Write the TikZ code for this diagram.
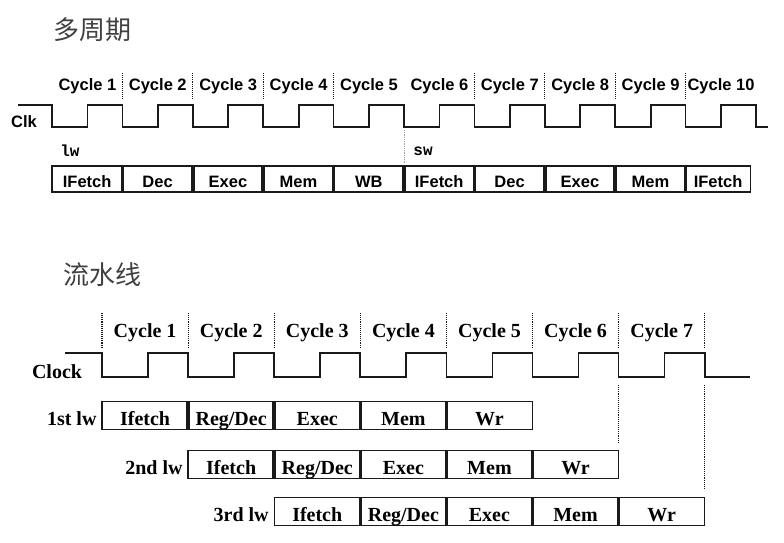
\documentclass[tikz,border=0pt]{standalone}
\usepackage{fontspec}
\setmainfont{Liberation Serif}
\newfontfamily\labsans{Liberation Sans}
\newfontfamily\labmono{Liberation Mono}
\newfontfamily\cjk{Noto Sans CJK SC}
\usetikzlibrary{positioning}
\definecolor{ink}{HTML}{1A1A1A}
\definecolor{titlegray}{HTML}{404040}
\definecolor{guidegray}{HTML}{A0A0A0}

\begin{document}
\begin{tikzpicture}[
  x=1pt,y=-1pt,
  wave/.style={line width=1.7pt,draw=ink},
  tick/.style={densely dotted,line width=1.1pt,draw=ink},
  stage/.style={draw=ink,line width=1.4pt,outer sep=0pt,inner sep=0pt,minimum height=26pt,minimum width=70.4pt,text height=17pt,text depth=0pt,font=\labsans\bfseries\fontsize{16.5}{20}\selectfont},
  pstage/.style={draw=ink,line width=1.4pt,outer sep=0pt,inner sep=0pt,minimum height=28pt,minimum width=86.1pt,text height=19pt,text depth=0pt,font=\bfseries\fontsize{20}{22}\selectfont},
  divider/.style={line width=3.6pt,draw=ink},
  title/.style={font=\cjk\fontsize{26}{30}\selectfont,text=titlegray},
  tlabel/.style={font=\labsans\bfseries\fontsize{16.5}{20}\selectfont},
  instr/.style={font=\labmono\bfseries\fontsize{16}{18}\selectfont},
  plabel/.style={font=\bfseries\fontsize{20}{22}\selectfont}
]
\useasboundingbox (0,0) rectangle (784,542);

% multi-cycle
\node[title] (mctitle) at (92,30) {多周期};
\node[tlabel] (clk) at (24,122) {Clk};
\draw[wave] (18,105) \foreach \i in {0,...,9}{ -- ({52+70.4*\i},105) -- ({52+70.4*\i},127) -- ({87.5+70.4*\i},127) -- ({87.5+70.4*\i},105)} -- (756,105) -- (756,127) -- (768,127);
\foreach \i in {1,...,10} \node[tlabel] (cyc\i) at ({17+70.4*\i},86) {Cycle \i};
\foreach \i in {1,2,3,4,6,7,8,9} \draw[tick] ({52+70.4*\i},73) -- ++(0,27);
\draw[tick,draw=guidegray,line width=0.8pt] (404,130) -- (404,163);
\node[instr] (lw) at (70,151) {lw};
\node[instr] (sw) at (423,151) {sw};
\node[stage,anchor=west] (lwfetch) at (52,179) {IFetch};
\node[stage,right=0pt of lwfetch] (lwdec) {Dec};
\node[stage,right=0pt of lwdec] (lwexec) {Exec};
\node[stage,right=0pt of lwexec] (lwmem) {Mem};
\node[stage,right=0pt of lwmem] (lwwb) {WB};
\node[stage,right=0pt of lwwb] (swfetch) {IFetch};
\node[stage,right=0pt of swfetch] (swdec) {Dec};
\node[stage,right=0pt of swdec] (swexec) {Exec};
\node[stage,right=0pt of swexec] (swmem) {Mem};
\node[stage,right=0pt of swmem,minimum width=65pt] (nextfetch) {IFetch};
\foreach \s in {lwfetch,lwdec,lwexec,lwmem,lwwb,swfetch,swdec,swexec,swmem}
  \draw[divider] (\s.north east) -- (\s.south east);

% pipeline
\node[title] (pltitle) at (102,275) {流水线};
\node[plabel] (clock) at (57,372) {Clock};
\draw[wave] (65,353) \foreach \i in {0,...,6}{ -- ({102+86.1*\i},353) -- ({102+86.1*\i},377) -- ({148+86.1*\i},377) -- ({148+86.1*\i},353)} -- (704.7,353) -- (704.7,377) -- (750,377);
\foreach \i in {0,...,7} \draw[tick] ({102+86.1*\i},313) -- ++(0,34);
\foreach \i in {1,...,7} \node[plabel] (pcyc\i) at ({59+86.1*\i},333) {Cycle \i};
\draw[tick] (618.6,385) -- (618.6,442);
\draw[tick] (704.7,385) -- (704.7,489);
% 1st lw
\node[pstage,anchor=west] (fetcha) at (102,415.5) {Ifetch};
\node[pstage,right=0pt of fetcha] (deca) {Reg/Dec};
\node[pstage,right=0pt of deca] (execa) {Exec};
\node[pstage,right=0pt of execa] (mema) {Mem};
\node[pstage,right=0pt of mema] (wra) {Wr};
\node[plabel,anchor=base east] (lwa) at ([xshift=-2pt]fetcha.base west) {1st lw};
% 2nd lw
\node[pstage,anchor=west] (fetchb) at (188.1,464.5) {Ifetch};
\node[pstage,right=0pt of fetchb] (decb) {Reg/Dec};
\node[pstage,right=0pt of decb] (execb) {Exec};
\node[pstage,right=0pt of execb] (memb) {Mem};
\node[pstage,right=0pt of memb] (wrb) {Wr};
\node[plabel,anchor=base east] (lwb) at ([xshift=-2pt]fetchb.base west) {2nd lw};
% 3rd lw
\node[pstage,anchor=west] (fetchc) at (274.2,511.5) {Ifetch};
\node[pstage,right=0pt of fetchc] (decc) {Reg/Dec};
\node[pstage,right=0pt of decc] (execc) {Exec};
\node[pstage,right=0pt of execc] (memc) {Mem};
\node[pstage,right=0pt of memc] (wrc) {Wr};
\node[plabel,anchor=base east] (lwc) at ([xshift=-2pt]fetchc.base west) {3rd lw};
\foreach \s in {fetcha,deca,execa,mema,fetchb,decb,execb,memb,fetchc,decc,execc,memc}
  \draw[divider] (\s.north east) -- (\s.south east);
\end{tikzpicture}
\end{document}
